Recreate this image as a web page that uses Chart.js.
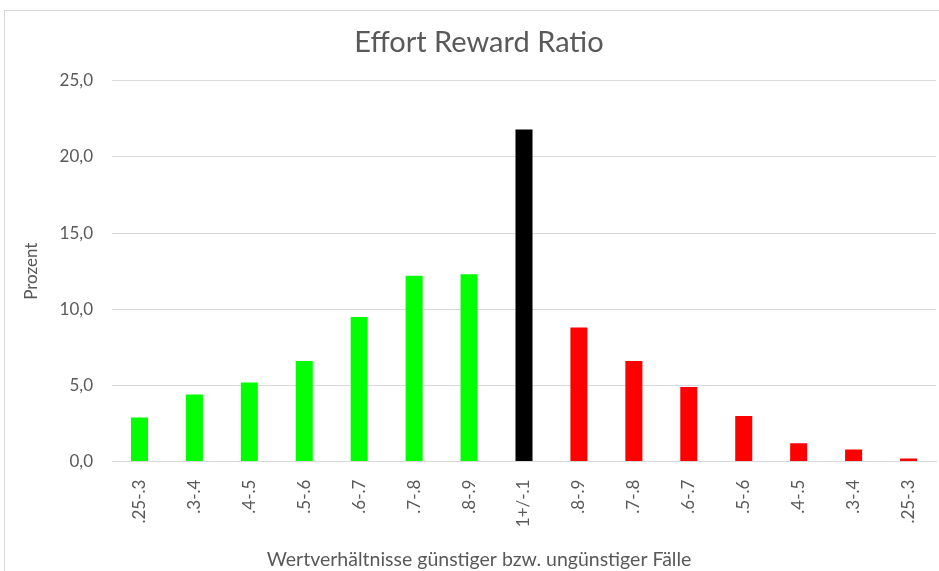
<!DOCTYPE html>
<html>
<head>
<meta charset="utf-8">
<script src="https://cdn.jsdelivr.net/npm/chart.js@4"></script>
<style>
  html, body { margin: 0; padding: 0; background: #fff; overflow: hidden; }
  #frame { position: absolute; left: 4px; top: 10px; width: 1000px; height: 1000px; border: 1px solid #d9d9d9; }
  #wrap { position: absolute; left: 0; top: 0; width: 939px; height: 571px; }
</style>
</head>
<body>
<div id="frame"></div>
<div id="wrap"><canvas id="myChart" width="939" height="571"></canvas></div>
<script>
// data
var categories = [".25-.3", ".3-.4", ".4-.5", ".5-.6", ".6-.7", ".7-.8", ".8-.9", "1+/-.1",
  ".8-.9", ".7-.8", ".6-.7", ".5-.6", ".4-.5", ".3-.4", ".25-.3"];
var percent = [2.9, 4.4, 5.2, 6.6, 9.5, 12.2, 12.3, 21.8, 8.8, 6.6, 4.9, 3.0, 1.2, 0.8, 0.2];
var yTicks = [0, 5, 10, 15, 20, 25];

// green = günstig, black = ausgeglichen, red = ungünstig
var barColors = percent.map(function (v, i) {
  if (i < 7) return "#00ff00";
  if (i == 7) return "#000000";
  return "#ff0000";
});

var grey = "#595959";
var font = "Lato, 'Open Sans', sans-serif";

var ctx = document.getElementById("myChart").getContext("2d");
var chart = new Chart(ctx, {
  type: "bar",
  data: {
    labels: categories,
    datasets: [
      {
        label: "Prozent",
        data: percent,
        backgroundColor: barColors,
        categoryPercentage: 1,
        barPercentage: 0.31,
      },
    ],
  },
  options: {
    responsive: false,
    animation: false,
    layout: { padding: { left: 21, top: 10, right: 2, bottom: 0 } },
    plugins: {
      legend: { display: false },
      tooltip: { enabled: false },
      title: {
        display: true,
        text: "Effort Reward Ratio",
        color: grey,
        font: { family: font, size: 29, weight: "normal" },
        padding: { top: 15, bottom: 21 },
      },
      // x axis title, centred on the whole chart like in the original
      subtitle: {
        display: true,
        position: "bottom",
        text: "Wertverhältnisse günstiger bzw. ungünstiger Fälle",
        color: grey,
        font: { family: font, size: 19.5, weight: "normal" },
        padding: { top: 0, bottom: 0 },
      },
    },
    scales: {
      x: {
        grid: { display: false },
        border: { display: true, color: "#d9d9d9" },
        ticks: {
          color: grey,
          font: { family: font, size: 17 },
          minRotation: 90,
          maxRotation: 90,
          padding: 10,
        },
        afterFit: function (s) { s.height = 86; },
      },
      y: {
        min: 0,
        max: 25,
        afterBuildTicks: function (s) {
          s.ticks = yTicks.map(function (v) { return { value: v }; });
        },
        grid: { color: "#d9d9d9", drawTicks: false },
        border: { display: false },
        ticks: {
          color: grey,
          font: { family: font, size: 17 },
          padding: 19,
          callback: function (v) { return v.toFixed(1).replace(".", ","); },
        },
        title: {
          display: true,
          text: "Prozent",
          color: grey,
          font: { family: font, size: 17 },
          padding: { top: 0, bottom: 0 },
        },
        afterFit: function (s) { s.width = 91; },
      },
    },
  },
});
</script>
</body>
</html>
